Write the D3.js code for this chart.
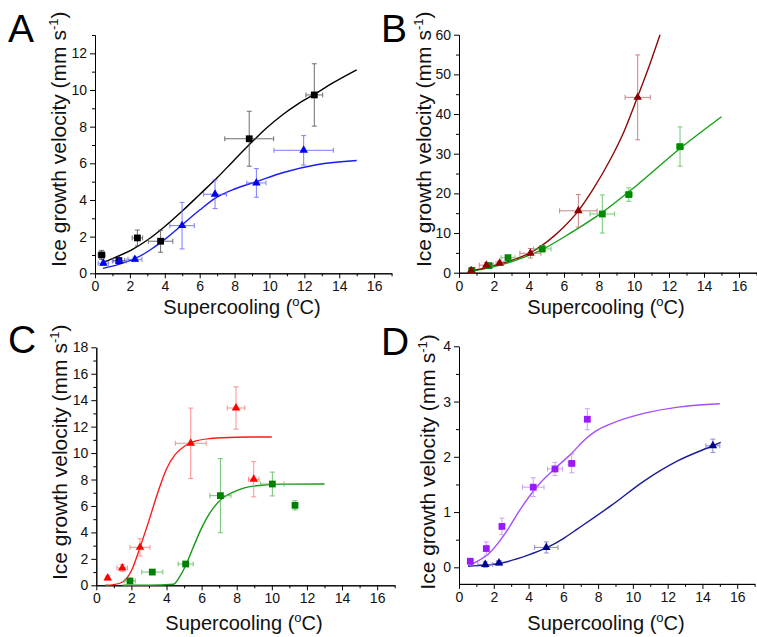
<!DOCTYPE html>
<html lang="en">
<head>
<meta charset="UTF-8">
<title>Ice growth velocity vs supercooling</title>
<script src="https://d3js.org/d3.v7.min.js"></script>
<style>
  body { margin: 0; background: #fff; }
  svg { display: block; font-family: 'Liberation Sans', Arial, sans-serif; }
  .axis path, .axis line { stroke: #000; stroke-width: 1; }
  .axis text { font-size: 14px; fill: #111; font-family: 'Liberation Sans', Arial, sans-serif; }
</style>
</head>
<body>
<svg width="757" height="637"></svg>
<script>
// tick values
const xTicks = [0, 2, 4, 6, 8, 10, 12, 14, 16];
const xMinorTicks = [1, 3, 5, 7, 9, 11, 13, 15, 17];
const aTicks = [0, 2, 4, 6, 8, 10, 12];
const bTicks = [0, 10, 20, 30, 40, 50, 60];
const cTicks = [0, 2, 4, 6, 8, 10, 12, 14, 16, 18];
const dTicks = [0, 1, 2, 3, 4];

// data points: [supercooling, velocity, x error, y error]
const aSquares = [[0.38, 1.0, 0.2, 0.25], [1.37, 0.69, 0.33, 0.15], [2.43, 1.93, 0.3, 0.43], [3.76, 1.75, 0.7, 0.6], [8.84, 7.34, 1.4, 1.5], [12.57, 9.73, 0.48, 1.7]];
const aTriangles = [[0.48, 0.55, 0.3, 0.12], [1.39, 0.67, 0.4, 0.12], [2.29, 0.76, 0.4, 0.12], [4.99, 2.6, 0.7, 1.27], [6.88, 4.31, 0.65, 0.78], [9.25, 4.93, 0.55, 0.78], [11.96, 6.71, 1.7, 0.8]];
const bTriangles = [[0.7, 0.5, 0.15, 0.3], [1.56, 1.9, 0.4, 0.6], [2.32, 2.4, 0.2, 0.5], [4.08, 4.9, 0.6, 1.2], [6.82, 15.6, 1.07, 4.1], [10.21, 44.2, 0.72, 10.7]];
const bSquares = [[0.74, 0.6, 0.15, 0.3], [1.71, 1.8, 0.2, 0.5], [2.8, 3.8, 0.4, 0.5], [4.76, 6.0, 0.5, 0.8], [8.19, 14.8, 0.7, 4.8], [9.7, 19.7, 0.2, 1.7], [12.63, 31.8, 0.2, 4.95]];
const cTriangles = [[0.65, 0.55, 0.1, 0.15], [1.48, 1.31, 0.3, 0.25], [2.49, 2.87, 0.57, 0.65], [5.38, 10.74, 0.88, 2.66], [7.96, 13.41, 0.5, 1.6], [8.97, 8.02, 0.3, 1.33]];
const cSquares = [[1.92, 0.33, 0.3, 0.1], [3.19, 1.0, 0.6, 0.1], [5.09, 1.61, 0.43, 0.15], [7.07, 6.78, 0.6, 2.8], [10.03, 7.66, 0.67, 0.9], [11.32, 6.05, 0.1, 0.35]];
const dSquares = [[0.65, 0.11, 0.1, 0.05], [1.57, 0.34, 0.1, 0.12], [2.47, 0.74, 0.15, 0.15], [4.27, 1.45, 0.62, 0.17], [5.52, 1.78, 0.43, 0.12], [6.48, 1.88, 0.2, 0.17], [7.38, 2.68, 0.1, 0.19]];
const dTriangles = [[1.51, 0.05, 0.43, 0.05], [2.3, 0.08, 0.15, 0.04], [5.02, 0.36, 0.67, 0.1], [14.6, 2.2, 0.4, 0.12]];

// fitted curves: [supercooling, velocity]
const aBlackFit = [[0.45, 0.58], [1.0, 0.8], [2.2, 1.33], [3.15, 1.91], [4.0, 2.55], [5.06, 3.45], [6.0, 4.3], [6.97, 5.18], [8.0, 6.2], [8.88, 7.05], [9.8, 7.9], [10.79, 8.68], [11.6, 9.22], [12.51, 9.73], [13.66, 10.4], [15.0, 11.1]];
const aBlueFit = [[0.45, 0.27], [1.4, 0.5], [2.4, 0.85], [3.2, 1.3], [4.0, 1.85], [5.0, 2.65], [6.0, 3.45], [6.9, 4.1], [8.0, 4.6], [9.25, 5.0], [10.8, 5.5], [12.7, 5.92], [15.0, 6.15]];
const bRedFit = [[0.5, 0.3], [1.5, 1.2], [2.3, 2.2], [3.2, 3.4], [4.06, 5.0], [5.39, 9.1], [6.0, 11.6], [6.82, 15.6], [7.7, 21.3], [8.63, 28.4], [9.4, 35.3], [10.21, 44.4], [10.9, 52.5], [11.49, 60]];
const bGreenFit = [[0.6, 0.3], [1.58, 1.1], [3.1, 2.9], [4.78, 5.9], [6.34, 9.9], [8.19, 15.2], [10.15, 22.0], [12.63, 31.3], [15.0, 39.3]];
const cRedFit = [[0.5, 0.0], [1.0, 0.05], [1.5, 0.25], [2.0, 1.1], [2.5, 2.9], [3.0, 4.9], [3.5, 7.0], [4.0, 8.8], [4.5, 9.9], [5.0, 10.5], [5.5, 10.85], [6.5, 11.1], [8.0, 11.2], [10.0, 11.22]];
const cGreenFit = [[1.5, 0.0], [3.0, 0.0], [4.4, 0.08], [4.7, 0.55], [5.09, 1.5], [5.5, 2.8], [5.91, 4.08], [6.3, 5.1], [6.67, 5.85], [7.2, 6.6], [7.81, 7.05], [8.95, 7.5], [10.85, 7.65], [13.0, 7.66]];
const dPurpleFit = [[0.52, 0.03], [1.0, 0.1], [1.72, 0.25], [2.67, 0.62], [3.63, 1.1], [4.59, 1.5], [5.56, 1.8], [6.5, 2.07], [7.2, 2.3], [7.84, 2.46], [8.76, 2.6], [10.68, 2.79], [12.6, 2.9], [15.0, 2.96]];
const dNavyFit = [[0.52, 0.02], [1.5, 0.04], [2.3, 0.07], [3.97, 0.22], [5.02, 0.35], [6.0, 0.52], [6.84, 0.7], [8.76, 1.12], [10.68, 1.57], [12.6, 1.93], [14.6, 2.2], [15.05, 2.26]];

const svg = d3.select("svg");

const panels = [
  { label: "A", left: 95, right: 391.6, top: 35, bottom: 273.3, yDomain: [0, 13], yTicks: aTicks, yStep: 2,
    letter: [8, 42], xTitle: [242, 314], yTitle: [66, 267],
    series: [
      { fit: aBlackFit, pts: aSquares, shape: "square", line: "#000000", mark: "#000000", err: "#555555" },
      { fit: aBlueFit, pts: aTriangles, shape: "triangle", line: "#1a1aff", mark: "#0000ff", err: "#6666ff" }
    ] },
  { label: "B", left: 459, right: 756.5, top: 34.7, bottom: 272.7, yDomain: [0, 60], yTicks: bTicks, yStep: 10,
    letter: [381, 42], xTitle: [606, 314], yTitle: [431, 267],
    series: [
      { fit: bGreenFit, pts: bSquares, shape: "square", line: "#16a016", mark: "#008a00", err: "#5cc05c" },
      { fit: bRedFit, pts: bTriangles, shape: "triangle", line: "#8f0a0a", mark: "#8b0000", err: "#c07070" }
    ] },
  { label: "C", left: 96.3, right: 394.7, top: 347.3, bottom: 585.3, yDomain: [0, 18], yTicks: cTicks, yStep: 2,
    letter: [8, 353], xTitle: [244, 630], yTitle: [66.5, 580],
    series: [
      { fit: cRedFit, pts: cTriangles, shape: "triangle", line: "#ff1a1a", mark: "#ff0000", err: "#ff7a7a" },
      { fit: cGreenFit, pts: cSquares, shape: "square", line: "#159a15", mark: "#008000", err: "#5cb85c" }
    ] },
  { label: "D", left: 459, right: 754.6, top: 346.3, bottom: 583.9, yDomain: [-0.3, 4], yTicks: dTicks, yStep: 1,
    letter: [381, 355], xTitle: [606, 630], yTitle: [434.5, 589.7],
    series: [
      { fit: dNavyFit, pts: dTriangles, shape: "triangle", line: "#1a1a9a", mark: "#000099", err: "#7a7ac8" },
      { fit: dPurpleFit, pts: dSquares, shape: "square", line: "#a64dff", mark: "#9a1aff", err: "#c58cff" }
    ] }
];

function drawPanel(p) {
  const x = d3.scaleLinear().domain([0, 17]).range([p.left, p.right]);
  const y = d3.scaleLinear().domain(p.yDomain).range([p.bottom, p.top]);
  const g = svg.append("g");

  // minor ticks halfway between labelled ones
  const yMinor = d3.range(p.yDomain[0] < 0 ? -p.yStep / 2 : p.yStep / 2, p.yDomain[1] + 0.001, p.yStep)
    .filter(v => v >= p.yDomain[0] && v <= p.yDomain[1]);

  g.append("g").attr("class", "axis")
    .attr("transform", `translate(0,${p.bottom})`)
    .call(d3.axisBottom(x).tickValues(xMinorTicks).tickSize(3).tickSizeOuter(0).tickFormat(""));
  g.append("g").attr("class", "axis")
    .attr("transform", `translate(0,${p.bottom})`)
    .call(d3.axisBottom(x).tickValues(xTicks).tickSize(5).tickSizeOuter(0).tickPadding(3).tickFormat(d3.format("d")));

  g.append("g").attr("class", "axis")
    .attr("transform", `translate(${p.left},0)`)
    .call(d3.axisLeft(y).tickValues(yMinor).tickSize(3).tickSizeOuter(0).tickFormat(""));
  g.append("g").attr("class", "axis")
    .attr("transform", `translate(${p.left},0)`)
    .call(d3.axisLeft(y).tickValues(p.yTicks).tickSize(5).tickSizeOuter(0).tickPadding(3).tickFormat(d3.format("d")));

  const line = d3.line()
    .x(d => x(d[0]))
    .y(d => y(d[1]))
    .curve(d3.curveMonotoneX);

  p.series.forEach(s => {
    g.append("path")
      .datum(s.fit)
      .attr("d", line)
      .attr("fill", "none")
      .attr("stroke", s.line)
      .attr("stroke-width", 1.4);
  });

  p.series.forEach(s => {
    const eg = g.append("g").attr("stroke", s.err).attr("stroke-width", 1).attr("opacity", 0.85);
    s.pts.forEach(d => {
      const cx = x(d[0]), cy = y(d[1]);
      const x0 = x(d[0] - d[2]), x1 = x(d[0] + d[2]);
      const y0 = y(d[1] - d[3]), y1 = y(d[1] + d[3]);
      eg.append("line").attr("x1", x0).attr("x2", x1).attr("y1", cy).attr("y2", cy);
      eg.append("line").attr("x1", x0).attr("x2", x0).attr("y1", cy - 2.5).attr("y2", cy + 2.5);
      eg.append("line").attr("x1", x1).attr("x2", x1).attr("y1", cy - 2.5).attr("y2", cy + 2.5);
      eg.append("line").attr("x1", cx).attr("x2", cx).attr("y1", y0).attr("y2", y1);
      eg.append("line").attr("x1", cx - 2.5).attr("x2", cx + 2.5).attr("y1", y0).attr("y2", y0);
      eg.append("line").attr("x1", cx - 2.5).attr("x2", cx + 2.5).attr("y1", y1).attr("y2", y1);
    });
  });

  p.series.forEach(s => {
    const sym = d3.symbol()
      .type(s.shape === "square" ? d3.symbolSquare : d3.symbolTriangle)
      .size(s.shape === "square" ? 46 : 32);
    g.selectAll(null)
      .data(s.pts)
      .enter().append("path")
      .attr("d", sym)
      .attr("transform", d => `translate(${x(d[0])},${y(d[1])})`)
      .attr("fill", s.mark);
  });

  // titles
  const xt = svg.append("text")
    .attr("x", p.xTitle[0]).attr("y", p.xTitle[1])
    .attr("text-anchor", "middle")
    .attr("font-size", 20).attr("fill", "#111");
  xt.append("tspan").text("Supercooling (");
  xt.append("tspan").attr("font-size", 13).attr("dy", -8).text("o");
  xt.append("tspan").attr("dy", 8).text("C)");

  const yt = svg.append("text")
    .attr("transform", `translate(${p.yTitle[0]},${p.yTitle[1]}) rotate(-90)`)
    .attr("text-anchor", "start")
    .attr("font-size", 21).attr("fill", "#111");
  yt.append("tspan").text("Ice growth velocity (mm s");
  yt.append("tspan").attr("font-size", 13).attr("dy", -8).text("-1");
  yt.append("tspan").attr("dy", 8).text(")");

  svg.append("text")
    .attr("x", p.letter[0]).attr("y", p.letter[1])
    .attr("font-size", 39).attr("fill", "#000")
    .text(p.label);
}

panels.forEach(drawPanel);
</script>
</body>
</html>
